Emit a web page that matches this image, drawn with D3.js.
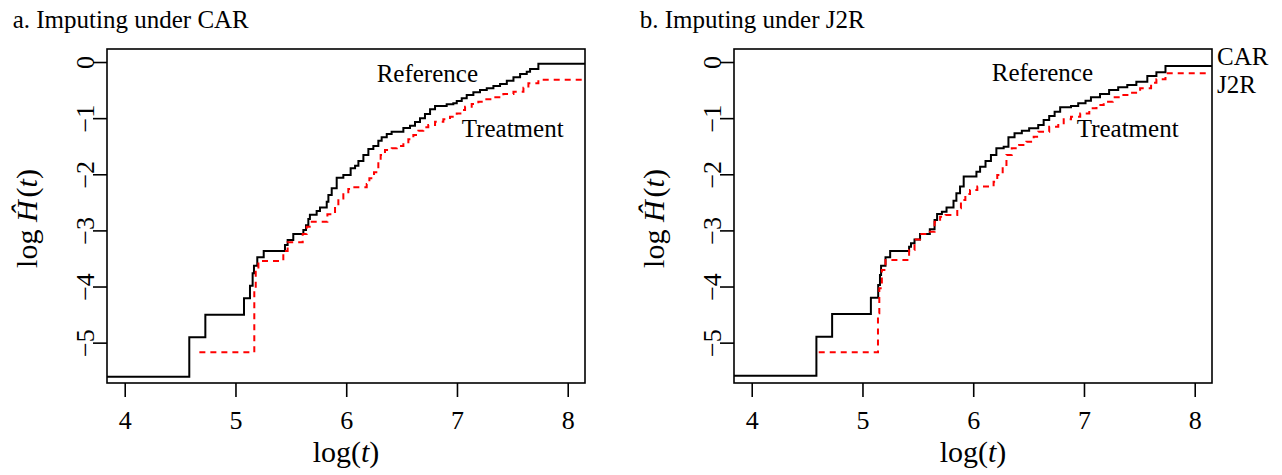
<!DOCTYPE html>
<html>
<head>
<meta charset="utf-8">
<script src="https://cdnjs.cloudflare.com/ajax/libs/d3/7.8.5/d3.min.js"></script>
<style>
body { margin: 0; background: #fff; }
text { font-family: "Liberation Serif", "Times New Roman", serif; fill: #000; }
</style>
</head>
<body>
<div id="chart-area"></div>
<script>
// Tick values
const xTicks = [4, 5, 6, 7, 8];
const yTicks = [0, -1, -2, -3, -4, -5];

// Panel a: imputing under CAR  (log t, log H)
const refTimeA = [3.84, 4.583, 4.728, 5.077, 5.131, 5.155, 5.167, 5.197, 5.255, 5.447, 5.471, 5.522, 5.613, 5.637, 5.658, 5.672, 5.733, 5.763, 5.824, 5.839, 5.869, 5.914, 5.974, 6.04, 6.08, 6.11, 6.155, 6.2, 6.245, 6.29, 6.32, 6.366, 6.41, 6.516, 6.576, 6.621, 6.666, 6.711, 6.757, 6.802, 6.907, 6.967, 6.998, 7.043, 7.088, 7.148, 7.208, 7.269, 7.329, 7.389, 7.45, 7.51, 7.57, 7.63, 7.66, 7.735, 8.156];
const refHazA = [-5.607, -4.905, -4.502, -4.21, -3.985, -3.765, -3.629, -3.48, -3.367, -3.26, -3.17, -3.064, -2.993, -2.91, -2.797, -2.72, -2.654, -2.59, -2.49, -2.37, -2.25, -2.06, -2.013, -1.894, -1.847, -1.764, -1.657, -1.55, -1.497, -1.402, -1.342, -1.283, -1.241, -1.176, -1.135, -1.069, -1.0, -0.926, -0.843, -0.784, -0.754, -0.736, -0.695, -0.647, -0.588, -0.54, -0.499, -0.469, -0.428, -0.392, -0.333, -0.273, -0.214, -0.172, -0.125, -0.03, -0.03];
const trtTimeA = [4.674, 5.17, 5.183, 5.207, 5.432, 5.471, 5.607, 5.643, 5.689, 5.83, 5.899, 5.929, 5.974, 6.019, 6.064, 6.185, 6.209, 6.251, 6.29, 6.311, 6.35, 6.411, 6.456, 6.516, 6.561, 6.606, 6.651, 6.696, 6.741, 6.802, 6.877, 6.937, 6.998, 7.043, 7.073, 7.133, 7.193, 7.253, 7.329, 7.419, 7.51, 7.6, 7.645, 7.735, 8.141];
const trtHazA = [-5.173, -4.062, -3.735, -3.545, -3.367, -3.21, -3.064, -2.934, -2.845, -2.714, -2.578, -2.43, -2.322, -2.263, -2.233, -2.174, -2.072, -1.965, -1.805, -1.657, -1.568, -1.538, -1.497, -1.449, -1.378, -1.3, -1.224, -1.164, -1.122, -1.064, -1.021, -0.974, -0.915, -0.855, -0.796, -0.748, -0.707, -0.665, -0.629, -0.57, -0.529, -0.458, -0.38, -0.315, -0.315];

// Panel b: imputing under J2R
const refTimeB = [3.84, 4.584, 4.726, 5.076, 5.142, 5.158, 5.168, 5.208, 5.25, 5.421, 5.438, 5.47, 5.52, 5.608, 5.651, 5.674, 5.717, 5.759, 5.822, 5.848, 5.881, 5.914, 6.029, 6.062, 6.111, 6.16, 6.209, 6.275, 6.318, 6.373, 6.439, 6.505, 6.587, 6.636, 6.686, 6.735, 6.785, 6.883, 6.948, 7.014, 7.063, 7.145, 7.227, 7.309, 7.391, 7.473, 7.572, 7.654, 7.736, 8.156];
const refHazB = [-5.589, -4.894, -4.49, -4.199, -3.973, -3.795, -3.629, -3.48, -3.367, -3.29, -3.23, -3.16, -3.064, -2.981, -2.815, -2.708, -2.667, -2.59, -2.47, -2.34, -2.22, -2.04, -1.954, -1.865, -1.764, -1.657, -1.538, -1.509, -1.342, -1.271, -1.224, -1.182, -1.122, -1.033, -0.962, -0.885, -0.807, -0.784, -0.736, -0.689, -0.629, -0.57, -0.499, -0.451, -0.41, -0.351, -0.249, -0.184, -0.071, -0.071];
const trtTimeB = [4.605, 5.14, 5.152, 5.175, 5.208, 5.421, 5.47, 5.52, 5.608, 5.651, 5.701, 5.75, 5.856, 5.889, 5.929, 5.971, 6.037, 6.184, 6.217, 6.266, 6.3, 6.348, 6.414, 6.48, 6.546, 6.587, 6.686, 6.768, 6.817, 6.883, 6.966, 7.048, 7.113, 7.178, 7.26, 7.342, 7.425, 7.507, 7.606, 7.654, 7.736, 8.141];
const trtHazB = [-5.173, -4.478, -4.032, -3.706, -3.528, -3.35, -3.16, -3.064, -3.023, -2.845, -2.756, -2.726, -2.607, -2.459, -2.352, -2.28, -2.22, -2.133, -2.013, -1.894, -1.657, -1.538, -1.479, -1.42, -1.331, -1.241, -1.152, -1.093, -1.021, -0.974, -0.915, -0.825, -0.766, -0.707, -0.629, -0.588, -0.547, -0.469, -0.368, -0.309, -0.202, -0.202];

// Set up dimensions
const width = 478;
const height = 334;
const marginTop = 49;

const svg = d3.select("#chart-area")
    .append("svg")
    .attr("width", 1282)
    .attr("height", 475);

const x = d3.scaleLinear().domain([3.84, 8.156]).range([0, width]);
const y = d3.scaleLinear().domain([-5.719, 0.232]).range([height, 0]);

const stepLine = d3.line()
    .x(d => x(d[0]))
    .y(d => y(d[1]))
    .curve(d3.curveStepAfter);

function drawPanel(left, id, title, refT, refH, trtT, trtH, refLab, trtLab) {
    const g = svg.append("g").attr("transform", "translate(" + left + "," + marginTop + ")");

    g.append("clipPath").attr("id", "clip-" + id)
        .append("rect").attr("width", width).attr("height", height);

    // title
    g.append("text")
        .attr("x", 12.7 - 107)
        .attr("y", -21)
        .style("font-size", "25px")
        .text(title);

    // x axis
    const xa = g.append("g")
        .attr("transform", "translate(0," + height + ")")
        .call(d3.axisBottom(x).tickValues(xTicks).tickFormat(d3.format("d")).tickSize(14).tickSizeOuter(0));
    xa.select(".domain").remove();
    xa.selectAll("line").attr("stroke-width", 1.6);
    xa.selectAll("text")
        .attr("y", 46).attr("dy", 0)
        .style("font-size", "26px")
        .style("font-family", "Liberation Serif, serif");

    // y axis
    const ya = g.append("g")
        .call(d3.axisLeft(y).tickValues(yTicks).tickFormat(d3.format("d")).tickSize(14).tickSizeOuter(0));
    ya.select(".domain").remove();
    ya.selectAll("line").attr("stroke-width", 1.6);
    ya.selectAll("text")
        .attr("x", null).attr("dy", null)
        .attr("text-anchor", "middle")
        .attr("transform", "translate(-13,0) rotate(-90)")
        .style("font-size", "26px")
        .style("font-family", "Liberation Serif, serif");

    // axis titles
    const xt = g.append("text")
        .attr("x", width / 2)
        .attr("y", 413)
        .attr("text-anchor", "middle")
        .style("font-size", "30px");
    xt.append("tspan").text("log(");
    xt.append("tspan").style("font-style", "italic").text("t");
    xt.append("tspan").text(")");

    const yt = g.append("text")
        .attr("transform", "translate(-70,169.5) rotate(-90)")
        .attr("text-anchor", "middle")
        .style("font-size", "30px");
    yt.append("tspan").text("log ");
    yt.append("tspan").style("font-style", "italic").text("\u0124");
    yt.append("tspan").attr("dx", 3).text("(");
    yt.append("tspan").style("font-style", "italic").text("t");
    yt.append("tspan").text(")");

    // curves
    const curves = g.append("g").attr("clip-path", "url(#clip-" + id + ")");
    curves.append("path")
        .datum(d3.zip(refT, refH))
        .attr("d", stepLine)
        .attr("fill", "none")
        .attr("stroke", "#000")
        .attr("stroke-width", 2);
    curves.append("path")
        .datum(d3.zip(trtT, trtH))
        .attr("d", stepLine)
        .attr("fill", "none")
        .attr("stroke", "#ff0000")
        .attr("stroke-width", 2)
        .attr("stroke-dasharray", "6,5");

    // box
    g.append("rect")
        .attr("width", width).attr("height", height)
        .attr("fill", "none").attr("stroke", "#000").attr("stroke-width", 1.6);

    // curve labels
    g.append("text")
        .attr("x", x(refLab[0])).attr("y", y(refLab[1]))
        .style("font-size", "25px")
        .text("Reference");
    g.append("text")
        .attr("x", x(trtLab[0])).attr("y", y(trtLab[1]))
        .style("font-size", "25px")
        .text("Treatment");

    return g;
}

drawPanel(107, "a", "a. Imputing under CAR", refTimeA, refHazA, trtTimeA, trtHazA, [6.275, -0.351], [7.043, -1.342]);
const gb = drawPanel(734, "b", "b. Imputing under J2R", refTimeB, refHazB, trtTimeB, trtHazB, [6.167, -0.333], [6.935, -1.342]);

// side labels for panel b
gb.append("text").attr("x", width + 5).attr("y", 16).style("font-size", "25px").text("CAR");
gb.append("text").attr("x", width + 5).attr("y", 44).style("font-size", "25px").text("J2R");
</script>
</body>
</html>
